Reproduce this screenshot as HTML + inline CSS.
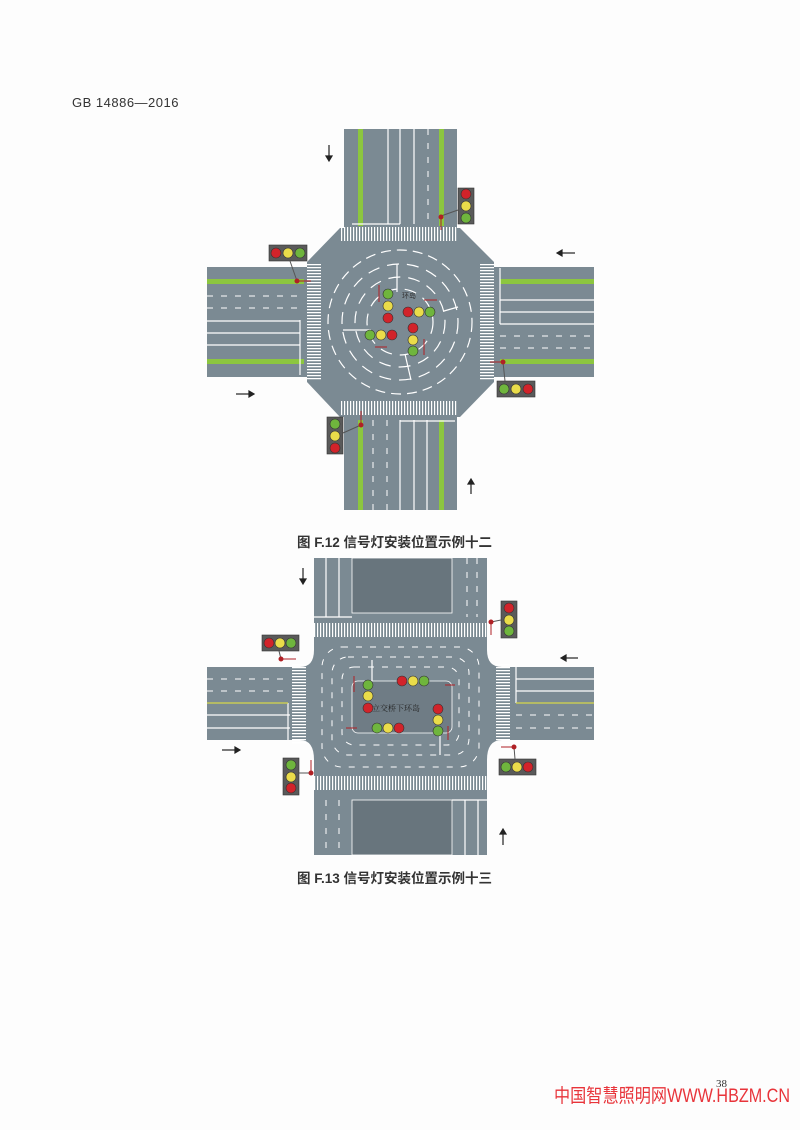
<!DOCTYPE html>
<html><head><meta charset="utf-8"><style>
html,body{margin:0;padding:0;background:#fdfdfd;}
body{width:800px;height:1130px;position:relative;overflow:hidden;font-family:"Liberation Sans","Noto Sans CJK SC",sans-serif;}
.t{position:absolute;white-space:nowrap;}
</style></head><body>
<div class="t" style="left:72px;top:95px;font-size:13px;color:#333;letter-spacing:0.5px">GB 14886—2016</div>
<div class="t" style="left:297px;top:531px;font-size:13.5px;font-weight:bold;color:#333">图 F.12 信号灯安装位置示例十二</div>
<div class="t" style="left:297px;top:867px;font-size:13.5px;font-weight:bold;color:#333">图 F.13 信号灯安装位置示例十三</div>
<div class="t" style="left:716px;top:1078px;font-size:11px;font-family:'Liberation Serif',serif;color:#333">38</div>
<svg width="800" height="1130" style="position:absolute;left:0;top:0" xmlns="http://www.w3.org/2000/svg">
<text x="554" y="1102" font-size="19" fill="#e8343a" textLength="236" lengthAdjust="spacingAndGlyphs" font-family="Liberation Sans, Noto Sans CJK SC, sans-serif">中国智慧照明网WWW.HBZM.CN</text>
<!-- ===== FIG 1 ===== -->
<g>
<rect x="344" y="129" width="113" height="381" fill="#7b8a93"/>
<rect x="207" y="267" width="387" height="110" fill="#7b8a93"/>
<polygon points="340,228 460,228 494,262 494,382 460,417 340,417 307,382 307,262" fill="#7b8a93"/>
<g fill="#8cc63f">
<rect x="358" y="129" width="5" height="97"/><rect x="439" y="129" width="5" height="97"/>
<rect x="358" y="420" width="5" height="90"/><rect x="439" y="420" width="5" height="90"/>
<rect x="207" y="279" width="97" height="5"/><rect x="207" y="359" width="97" height="5"/>
<rect x="500" y="279" width="94" height="5"/><rect x="500" y="359" width="94" height="5"/>
</g>
<g stroke="#fff" stroke-width="1.2" fill="none">
<line x1="388" y1="129" x2="388" y2="224"/><line x1="400" y1="129" x2="400" y2="224"/><line x1="414" y1="129" x2="414" y2="224"/>
<line x1="352" y1="224" x2="400" y2="224"/>
<line x1="400" y1="420" x2="400" y2="510"/><line x1="414" y1="420" x2="414" y2="510"/><line x1="427" y1="420" x2="427" y2="510"/>
<line x1="400" y1="421" x2="455" y2="421"/>
<line x1="207" y1="321" x2="300" y2="321"/><line x1="207" y1="333" x2="300" y2="333"/><line x1="207" y1="345" x2="300" y2="345"/>
<line x1="300" y1="320" x2="300" y2="375"/>
<line x1="500" y1="300" x2="594" y2="300"/><line x1="500" y1="312" x2="594" y2="312"/><line x1="500" y1="324" x2="594" y2="324"/>
<line x1="500" y1="268" x2="500" y2="324"/>
</g>
<g stroke="#fff" stroke-width="1" stroke-dasharray="6,8" fill="none">
<line x1="428" y1="129" x2="428" y2="224"/>
<line x1="373" y1="420" x2="373" y2="510"/><line x1="387" y1="420" x2="387" y2="510"/>
<line x1="207" y1="296" x2="300" y2="296"/><line x1="207" y1="308" x2="300" y2="308"/>
<line x1="500" y1="336" x2="594" y2="336"/><line x1="500" y1="348" x2="594" y2="348"/>
</g>
<g stroke="#fff" stroke-width="14" stroke-dasharray="1.2,1.8" fill="none">
<line x1="341" y1="234" x2="458" y2="234"/><line x1="341" y1="408" x2="458" y2="408"/>
<line x1="314" y1="264" x2="314" y2="380"/><line x1="487" y1="264" x2="487" y2="380"/>
</g>
<g stroke="#fff" stroke-width="1.2" fill="none">
<circle cx="400" cy="322" r="72" stroke-dasharray="10,6"/>
<circle cx="400" cy="322" r="58" stroke-dasharray="12,8"/>
<circle cx="400" cy="322" r="45" stroke-dasharray="12,8"/>
<circle cx="400" cy="322" r="33" stroke-dasharray="12,8"/>
<path d="M397,264 L397,292 M444,311 L458,307 M405,354 L411,380 M343,330 L371,330"/>
</g>
<text x="402" y="298" font-size="7" fill="#333" font-family="Noto Sans CJK SC,sans-serif">环岛</text>
<g stroke="#222" stroke-width="1.2" fill="#222">
<line x1="329" y1="145" x2="329" y2="158"/><polygon points="326,156 332,156 329,161"/>
<line x1="560" y1="253" x2="575" y2="253"/><polygon points="562,250 562,256 557,253"/>
<line x1="236" y1="394" x2="251" y2="394"/><polygon points="249,391 249,397 254,394"/>
<line x1="471" y1="481" x2="471" y2="494"/><polygon points="468,484 474,484 471,479"/>
</g>
</g>
<!-- ===== FIG 2 ===== -->
<g>
<rect x="314" y="558" width="173" height="297" fill="#7b8a93"/>
<rect x="207" y="667" width="387" height="73" fill="#7b8a93"/>
<path d="M300,667 Q314,667 314,650 L487,650 Q487,667 502,667 L502,740 Q487,740 487,760 L314,760 Q314,740 300,740 Z" fill="#7b8a93"/>
<rect x="352" y="558" width="100" height="55" fill="#68757d" stroke="#fff" stroke-width="0.8"/>
<rect x="352" y="800" width="100" height="55" fill="#68757d" stroke="#fff" stroke-width="0.8"/>
<rect x="352" y="681" width="100" height="52" rx="6" fill="#6f7c85" stroke="#fff" stroke-width="0.8"/>
<g stroke="#fff" stroke-width="1.2" fill="none">
<line x1="326" y1="558" x2="326" y2="617"/><line x1="339" y1="558" x2="339" y2="617"/><line x1="314" y1="617" x2="352" y2="617"/>
<line x1="465" y1="800" x2="465" y2="855"/><line x1="478" y1="800" x2="478" y2="855"/><line x1="452" y1="800" x2="487" y2="800"/>
<line x1="207" y1="715" x2="290" y2="715"/><line x1="207" y1="728" x2="290" y2="728"/><line x1="288" y1="703" x2="288" y2="740"/>
<line x1="516" y1="679" x2="594" y2="679"/><line x1="516" y1="691" x2="594" y2="691"/><line x1="516" y1="667" x2="516" y2="703"/>
<line x1="372" y1="660" x2="372" y2="681"/><line x1="440" y1="735" x2="440" y2="755"/>
</g>
<g stroke="#d7d64a" stroke-width="1.3"><line x1="207" y1="703" x2="288" y2="703"/><line x1="516" y1="703" x2="594" y2="703"/></g>
<g stroke="#fff" stroke-width="1" stroke-dasharray="6,8" fill="none">
<line x1="467" y1="558" x2="467" y2="617"/><line x1="477" y1="558" x2="477" y2="617"/>
<line x1="326" y1="800" x2="326" y2="855"/><line x1="339" y1="800" x2="339" y2="855"/>
<line x1="207" y1="679" x2="290" y2="679"/><line x1="207" y1="691" x2="290" y2="691"/>
<line x1="516" y1="715" x2="594" y2="715"/><line x1="516" y1="728" x2="594" y2="728"/>
<rect x="322" y="647" width="157" height="120" rx="20"/>
<rect x="332" y="657" width="137" height="98" rx="16"/>
<rect x="342" y="667" width="117" height="78" rx="12"/>
</g>
<g stroke="#fff" stroke-width="14" stroke-dasharray="1.2,1.8" fill="none">
<line x1="314" y1="630" x2="487" y2="630"/><line x1="314" y1="783" x2="487" y2="783"/>
<line x1="299" y1="664" x2="299" y2="745"/><line x1="503" y1="664" x2="503" y2="745"/>
</g>
<text x="372" y="711" font-size="8" fill="#222" font-family="Noto Serif CJK SC,serif">立交桥下环岛</text>
<g stroke="#222" stroke-width="1.2" fill="#222">
<line x1="303" y1="568" x2="303" y2="581"/><polygon points="300,579 306,579 303,584"/>
<line x1="564" y1="658" x2="578" y2="658"/><polygon points="566,655 566,661 561,658"/>
<line x1="222" y1="750" x2="237" y2="750"/><polygon points="235,747 235,753 240,750"/>
<line x1="503" y1="832" x2="503" y2="845"/><polygon points="500,834 506,834 503,829"/>
</g>
</g>
<g stroke="#333" stroke-width="0.6">
<rect x="458" y="188" width="16" height="36" fill="#5a5a5a"/>
<circle cx="466" cy="194" r="5" fill="#d2232a"/><circle cx="466" cy="206" r="5" fill="#eadc4a"/><circle cx="466" cy="218" r="5" fill="#6fb53d"/>
<rect x="269" y="245" width="38" height="16" fill="#5a5a5a"/>
<circle cx="276" cy="253" r="5" fill="#d2232a"/><circle cx="288" cy="253" r="5" fill="#eadc4a"/><circle cx="300" cy="253" r="5" fill="#6fb53d"/>
<rect x="497" y="381" width="38" height="16" fill="#5a5a5a"/>
<circle cx="504" cy="389" r="5" fill="#6fb53d"/><circle cx="516" cy="389" r="5" fill="#eadc4a"/><circle cx="528" cy="389" r="5" fill="#d2232a"/>
<rect x="327" y="417" width="16" height="37" fill="#5a5a5a"/>
<circle cx="335" cy="424" r="5" fill="#6fb53d"/><circle cx="335" cy="436" r="5" fill="#eadc4a"/><circle cx="335" cy="448" r="5" fill="#d2232a"/>
<circle cx="388" cy="294" r="5" fill="#6fb53d"/><circle cx="388" cy="306" r="5" fill="#eadc4a"/><circle cx="388" cy="318" r="5" fill="#d2232a"/>
<circle cx="408" cy="312" r="5" fill="#d2232a"/><circle cx="419" cy="312" r="5" fill="#eadc4a"/><circle cx="430" cy="312" r="5" fill="#6fb53d"/>
<circle cx="370" cy="335" r="5" fill="#6fb53d"/><circle cx="381" cy="335" r="5" fill="#eadc4a"/><circle cx="392" cy="335" r="5" fill="#d2232a"/>
<circle cx="413" cy="328" r="5" fill="#d2232a"/><circle cx="413" cy="340" r="5" fill="#eadc4a"/><circle cx="413" cy="351" r="5" fill="#6fb53d"/>
<rect x="501" y="601" width="16" height="37" fill="#5a5a5a"/>
<circle cx="509" cy="608" r="5" fill="#d2232a"/><circle cx="509" cy="620" r="5" fill="#eadc4a"/><circle cx="509" cy="631" r="5" fill="#6fb53d"/>
<rect x="262" y="635" width="37" height="16" fill="#5a5a5a"/>
<circle cx="269" cy="643" r="5" fill="#d2232a"/><circle cx="280" cy="643" r="5" fill="#eadc4a"/><circle cx="291" cy="643" r="5" fill="#6fb53d"/>
<rect x="499" y="759" width="37" height="16" fill="#5a5a5a"/>
<circle cx="506" cy="767" r="5" fill="#6fb53d"/><circle cx="517" cy="767" r="5" fill="#eadc4a"/><circle cx="528" cy="767" r="5" fill="#d2232a"/>
<rect x="283" y="758" width="16" height="37" fill="#5a5a5a"/>
<circle cx="291" cy="765" r="5" fill="#6fb53d"/><circle cx="291" cy="777" r="5" fill="#eadc4a"/><circle cx="291" cy="788" r="5" fill="#d2232a"/>
<circle cx="368" cy="685" r="5" fill="#6fb53d"/><circle cx="368" cy="696" r="5" fill="#eadc4a"/><circle cx="368" cy="708" r="5" fill="#d2232a"/>
<circle cx="402" cy="681" r="5" fill="#d2232a"/><circle cx="413" cy="681" r="5" fill="#eadc4a"/><circle cx="424" cy="681" r="5" fill="#6fb53d"/>
<circle cx="438" cy="709" r="5" fill="#d2232a"/><circle cx="438" cy="720" r="5" fill="#eadc4a"/><circle cx="438" cy="731" r="5" fill="#6fb53d"/>
<circle cx="377" cy="728" r="5" fill="#6fb53d"/><circle cx="388" cy="728" r="5" fill="#eadc4a"/><circle cx="399" cy="728" r="5" fill="#d2232a"/>
</g>
<g stroke="#b02025" stroke-width="1" fill="#b02025">
<line x1="458" y1="210" x2="441" y2="216" stroke="#555"/><circle cx="441" cy="217" r="2"/><line x1="441" y1="217" x2="441" y2="230"/>
<line x1="290" y1="261" x2="297" y2="281" stroke="#555"/><circle cx="297" cy="281" r="2"/><line x1="297" y1="281" x2="311" y2="281"/>
<line x1="505" y1="381" x2="503" y2="362" stroke="#555"/><circle cx="503" cy="362" r="2"/><line x1="503" y1="362" x2="490" y2="362"/>
<line x1="343" y1="433" x2="361" y2="425" stroke="#555"/><circle cx="361" cy="425" r="2"/><line x1="361" y1="425" x2="361" y2="411"/>
<line x1="379" y1="285" x2="379" y2="302"/><line x1="424" y1="300" x2="437" y2="300"/><line x1="375" y1="347" x2="387" y2="347"/><line x1="424" y1="339" x2="424" y2="355"/>
<line x1="501" y1="620" x2="491" y2="622" stroke="#555"/><circle cx="491" cy="622" r="2"/><line x1="491" y1="622" x2="491" y2="635"/>
<line x1="279" y1="651" x2="281" y2="659" stroke="#555"/><circle cx="281" cy="659" r="2"/><line x1="281" y1="659" x2="296" y2="659"/>
<line x1="515" y1="759" x2="514" y2="747" stroke="#555"/><circle cx="514" cy="747" r="2"/><line x1="514" y1="747" x2="501" y2="747"/>
<line x1="299" y1="773" x2="311" y2="773" stroke="#555"/><circle cx="311" cy="773" r="2"/><line x1="311" y1="773" x2="311" y2="760"/>
<line x1="354" y1="676" x2="354" y2="692"/><line x1="445" y1="685" x2="455" y2="685"/><line x1="346" y1="728" x2="357" y2="728"/><line x1="448" y1="726" x2="448" y2="740"/>
</g>
</svg>
</body></html>
